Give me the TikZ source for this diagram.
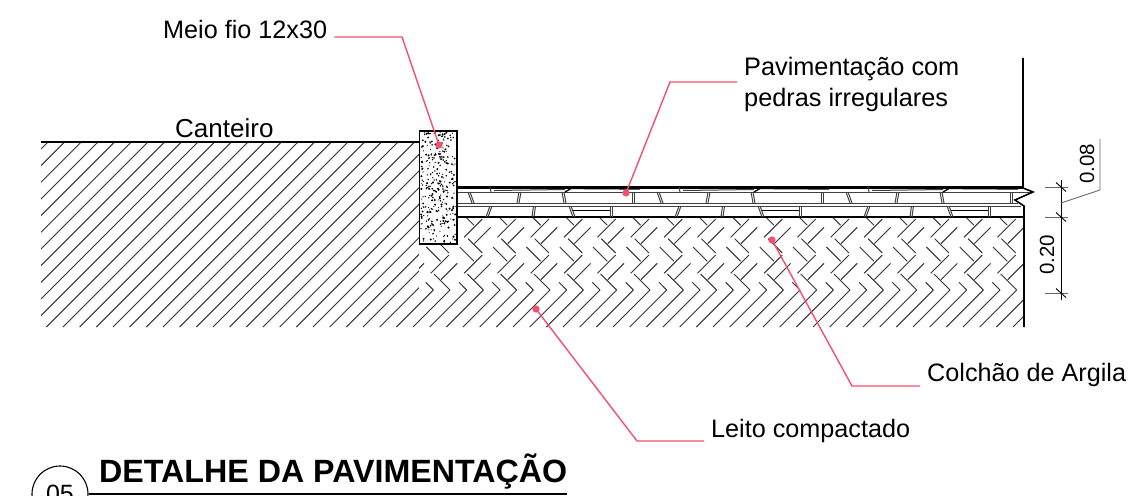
\documentclass[tikz,border=0pt]{standalone}
\usepackage{fontspec}
\setmainfont{Liberation Sans}
\definecolor{leaderpink}{HTML}{F2506F}
\definecolor{hatchgray}{HTML}{333333}
\tikzset{
    hatchline/.style={draw=hatchgray, line width=0.95pt},
    brickline/.style={hatchline, shorten >=1pt, shorten <=1.5pt},
    stoneline/.style={draw=black!75, line width=1pt},
    leader/.style={draw=leaderpink, line width=1.4pt},
    leaderdot/.style={fill=leaderpink},
    dimline/.style={draw=black, line width=0.9pt},
    dimtick/.style={draw=black!60, line width=0.9pt},
    callout/.style={font=\fontsize{25.2}{30}\selectfont, inner ysep=0pt, inner xsep=7pt, anchor=base west},
    dimtext/.style={font=\fontsize{20.5}{24}\selectfont, inner sep=0pt, rotate=90}
}
\begin{document}
\begin{tikzpicture}[x=1pt, y=-1pt]
    \clip (0,0) rectangle (1145,495);

    % Ground hatch, left of the curb
    \begin{scope}
        \clip (41,142) rectangle (419,327);
        \foreach \k in {0,...,34} {
            \pgfmathsetmacro{\c}{740-16.667*\k}
            \draw[hatchline] (\c-327,327) -- (\c-142,142);
        }
    \end{scope}

    % Herringbone fill and the hatch under it
    \begin{scope}
        \clip (419,217) rectangle (1023,327);
        \foreach \i in {-1,...,19} {
            \pgfmathsetmacro{\ax}{450+33.333*\i}
            % lowest row
            \draw[hatchline] (\ax,290) -- (\ax-37,327);
            \draw[hatchline] (\ax-16.67,290) -- (\ax-53.67,327);
            \draw[hatchline] (\ax,290) -- (\ax-16,274);
            \draw[hatchline] (\ax-16.67,290) -- (\ax-24.33,282.33);
            % upper rows
            \foreach \j in {1,2} {
                \pgfmathsetmacro{\ay}{290-36*\j}
                \draw[brickline] (\ax,\ay) -- (\ax-20,\ay+20);
                \draw[brickline] (\ax+8.33,\ay+8.33) -- (\ax-9.67,\ay+26.33);
                \draw[brickline] (\ax,\ay) -- (\ax-16,\ay-16);
                \draw[brickline] (\ax-8.33,\ay+8.33) -- (\ax-24.33,\ay-7.67);
            }
        }
    \end{scope}

    % Stone layer
    \draw[line width=2.2pt] (458,187.5) -- (1023,187.5);
    \draw[stoneline] (458,192) -- (1033,192);
    \draw[stoneline] (458,203) -- (1018,203);
    \draw[stoneline] (458,206) -- (1021,206);
    \draw[line width=1.3pt] (458,217) -- (1023,217);
    \foreach \s in {0,189,378} {
        % upper row of stones
        \foreach \a/\b in {468/472,519/517,562/564,632/632} {
            \draw[stoneline] (\a+\s,192) -- (\b+\s,203);
            \draw[stoneline] (\a+\s+2,192) -- (\b+\s+2,203);
        }
        % lower row of stones
        \foreach \a/\b in {490/486,533.5/532,569/573,610/610} {
            \draw[stoneline] (\a+\s,206) -- (\b+\s,217);
            \draw[stoneline] (\a+\s+2,206) -- (\b+\s+2,217);
        }
        % flat slab and thin top stones
        \draw[line width=1.3pt] (573+\s,210.5) -- (610+\s,210.5);
        \draw[stoneline] (490+\s,187) -- (491+\s,192);
        \draw[stoneline] (494+\s,190.5) -- (565+\s,189.5);
        \draw[line width=1.3pt] (565+\s,192) -- (571+\s,188.5) -- (640+\s,189);
    }

    % Curb with its aggregate
    \draw[line width=1.7pt, fill=white] (419.5,131) rectangle (457,244);
    \pgfmathsetseed{11}
    \foreach \n in {1,...,300} {
        \pgfmathsetmacro{\px}{421+34.5*rnd}
        \pgfmathsetmacro{\py}{132.5+110*rnd}
        \pgfmathsetmacro{\pr}{0.5+0.7*rnd}
        \fill (\px,\py) circle (\pr);
    }

    % Ground line, wall line and break
    \draw[line width=1.2pt] (41,142) -- (419,142);
    \draw[line width=1.6pt] (1023,58) -- (1023,188) -- (1033,192) -- (1015,200) -- (1024,206) -- (1024,327);

    % Dimensions
    \coordinate (dimtop) at (1061,180);
    \coordinate (dimend) at (1061,300);
    \draw[dimline] (dimtop) -- (dimend);
    \foreach \y in {187,217,293} {
        \draw[dimtick] (1045,\y) -- (1068,\y);
        \draw[dimline] (1056,\y-4.5) -- (1066,\y+4.5);
    }
    \node[dimtext] (d020) at (1047,255) {0.20};
    \node[dimtext] (d008) at (1087,164) {0.08};
    \draw[dimtick] (1061,203) -- (1100,190) -- (1100,139);

    % Labels
    \node[callout] (meio) at (156,38) {Meio fio 12x30};
    \node[callout, font=\fontsize{26}{30}\selectfont] (canteiro) at (168,137) {Canteiro};
    \node[callout, align=left, anchor=north west, font=\fontsize{25.3}{30.5}\selectfont] (pav) at (737,57) {Pavimentação com\\pedras irregulares};
    \node[callout] (colchao) at (920,381) {Colchão de Argila};
    \node[callout] (leito) at (704,437) {Leito compactado};

    % Leaders
    \coordinate (bmeio) at (402,37);
    \coordinate (dmeio) at (439,145);
    \coordinate (bpav) at (670,82);
    \coordinate (dpav) at (626,193);
    \coordinate (bcol) at (852,386);
    \coordinate (dcol) at (772,240);
    \coordinate (bleito) at (637,441);
    \coordinate (dleito) at (536,309);
    \draw[leader] (meio.east |- bmeio) -- (bmeio) -- (dmeio);
    \draw[leader] (pav.west |- bpav) -- (bpav) -- (dpav);
    \draw[leader] (colchao.west |- bcol) -- (bcol) -- (dcol);
    \draw[leader] (leito.west |- bleito) -- (bleito) -- (dleito);
    \foreach \d in {dmeio,dpav,dcol,dleito} {
        \fill[leaderdot] (\d) circle (3.6);
    }

    % Title
    \node[circle, draw, line width=1.1pt, minimum size=56pt, inner sep=0pt, font=\fontsize{25}{30}\selectfont] (num) at (60,494) {05};
    \node[anchor=base west, inner sep=0pt, font=\bfseries\fontsize{32.2}{36}\selectfont] (title) at (99,482) {DETALHE DA PAVIMENTAÇÃO};
    \draw[line width=1.1pt] (num.east) -- (title.base east |- num.east);
\end{tikzpicture}
\end{document}
